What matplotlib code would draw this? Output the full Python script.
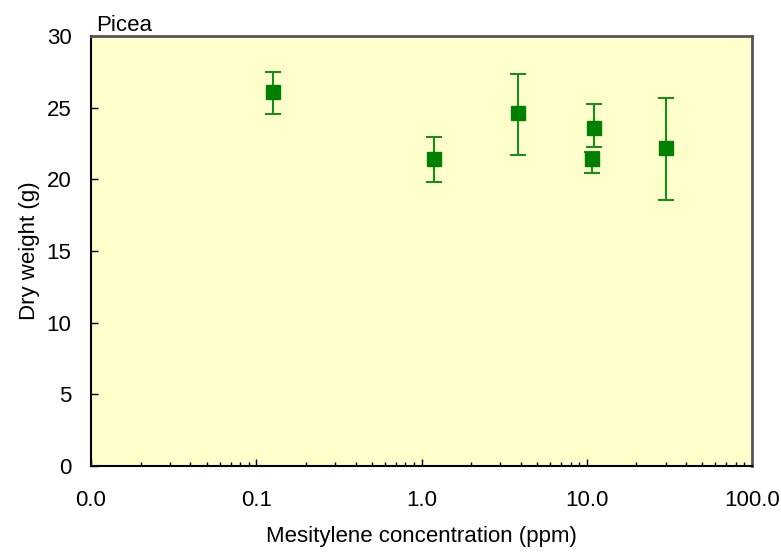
import matplotlib.pyplot as plt
from matplotlib.ticker import FixedLocator, LogLocator, NullFormatter

plt.rcParams['font.family'] = ['Liberation Sans', 'DejaVu Sans']

# Mesitylene concentration (ppm) vs dry weight (g), Picea
conc = [0.126, 1.19, 3.85, 11.07, 10.8, 30.0]
weight = [26.07, 21.42, 24.6, 23.59, 21.45, 22.21]
err_low = [1.51, 1.62, 2.87, 1.31, 0.98, 3.67]
err_high = [1.43, 1.56, 2.78, 1.65, 0.48, 3.47]

xticks = [0.01, 0.1, 1, 10, 100]
xticklabels = ['0.0', '0.1', '1.0', '10.0', '100.0']
yticks = [0, 5, 10, 15, 20, 25, 30]

fig = plt.figure(figsize=(7.81, 5.52), dpi=100)
ax = fig.add_axes([91 / 781, 1 - 466 / 552, 661 / 781, 430 / 552])
ax.set_facecolor('#ffffcc')

ax.errorbar(conc, weight, yerr=[err_low, err_high], fmt='s', color='#008000',
            ecolor='#1a8c1a', elinewidth=1.5, capsize=6, capthick=1.5,
            markersize=9.5, zorder=3)

ax.set_xscale('log')
ax.set_xlim(0.01, 100)
ax.set_ylim(0, 30)
ax.xaxis.set_major_locator(FixedLocator(xticks))
ax.set_xticklabels(xticklabels)
ax.xaxis.set_minor_locator(LogLocator(base=10, subs=range(2, 10)))
ax.xaxis.set_minor_formatter(NullFormatter())
ax.set_yticks(yticks)

ax.tick_params(axis='both', which='major', direction='in', length=5, width=1,
               labelsize=16)
ax.tick_params(axis='x', which='minor', direction='in', length=3, width=1)
ax.tick_params(axis='x', pad=17)
ax.tick_params(axis='y', pad=14)

for s in ['left', 'bottom']:
    ax.spines[s].set_color('black')
    ax.spines[s].set_linewidth(1.5)
for s in ['top', 'right']:
    ax.spines[s].set_color('#555555')
    ax.spines[s].set_linewidth(2)

ax.set_xlabel('Mesitylene concentration (ppm)', fontsize=16, labelpad=11)
ax.set_ylabel('Dry weight (g)', fontsize=16, labelpad=5)
ax.text(0.008, 1.0, 'Picea', transform=ax.transAxes, fontsize=16,
        ha='left', va='bottom')

fig.savefig('out.png', dpi=100)
